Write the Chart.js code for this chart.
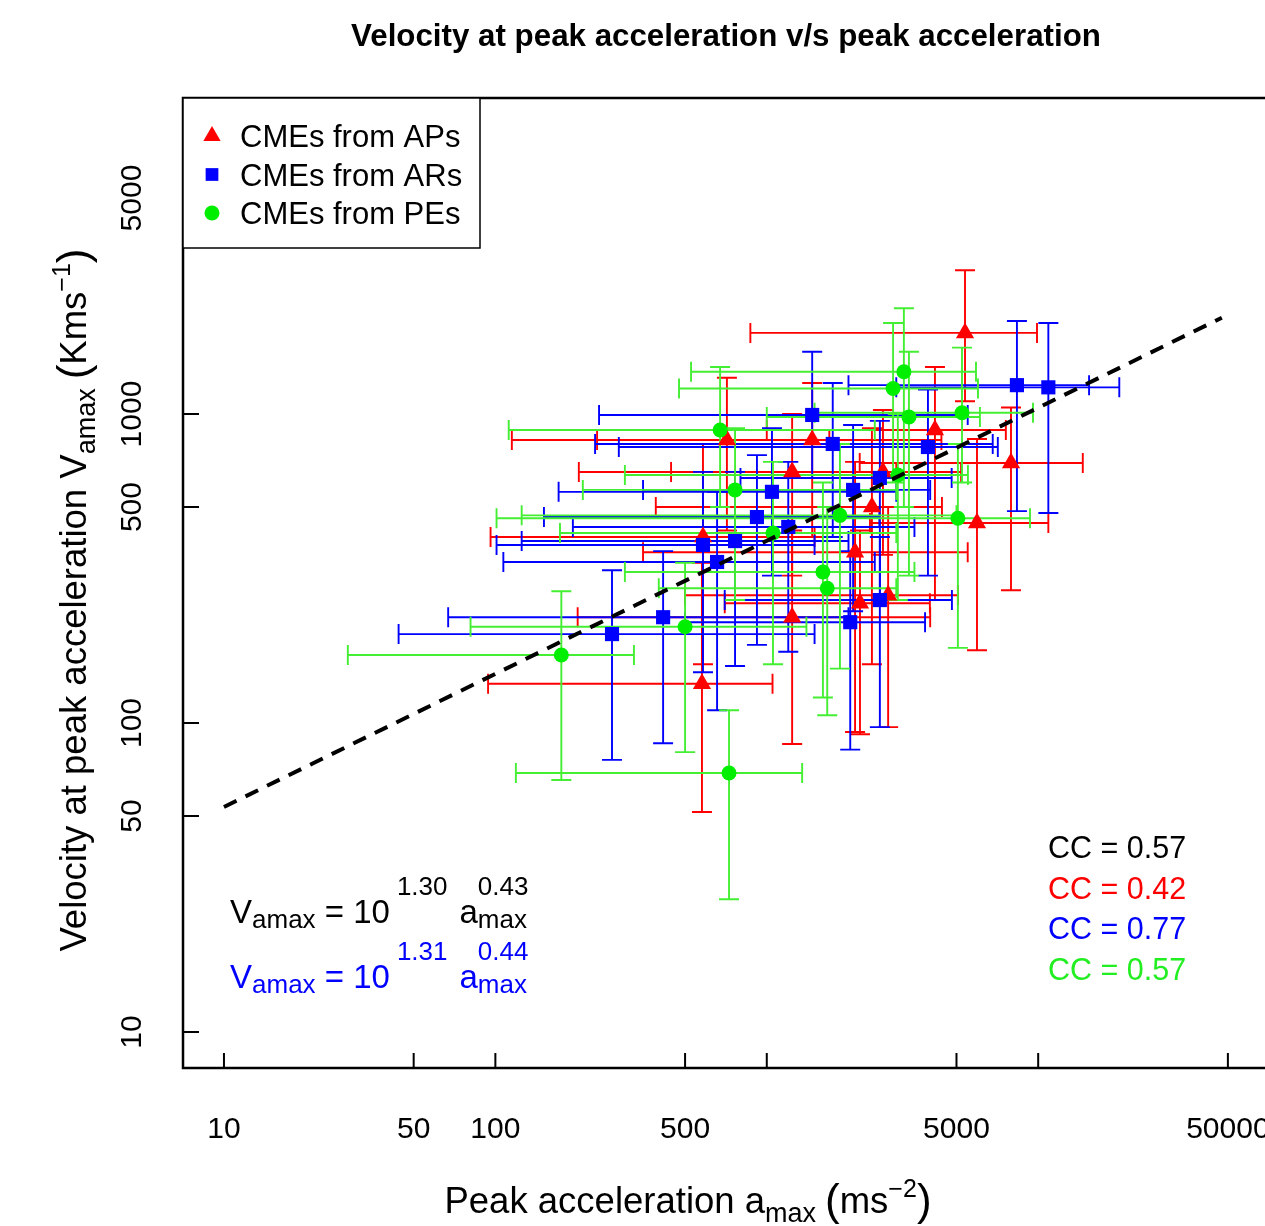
<!DOCTYPE html>
<html>
<head>
<meta charset="utf-8">
<title>Velocity at peak acceleration v/s peak acceleration</title>
<script src="https://cdn.jsdelivr.net/npm/chart.js@4.4.0/dist/chart.umd.min.js"></script>
<style>
  html, body { margin: 0; padding: 0; background: #fff; overflow: hidden; }
  #marco { width: 1265px; height: 1226px; overflow: hidden; }
  canvas { display: block; }
</style>
</head>
<body>
<div id="marco"><canvas id="grafico" width="1300" height="1226"></canvas></div>
<script>
// ejes (escala log)
const xTicks = [10, 50, 100, 500, 1000, 5000, 10000, 50000];
const xTickLabels = ['10', '50', '100', '500', '', '5000', '', '50000'];
const yTicks = [10, 50, 100, 500, 1000, 5000, 10000];
const yTickLabels = ['10', '50', '100', '500', '1000', '5000', ''];

// CMEs from APs (rojo)
const apX    = [5375, 7940, 5950, 577, 713, 1470, 1240, 2115, 2205, 2800, 4165, 2440, 582, 1240, 2680];
const apY    = [1830, 694, 444, 134, 824, 824, 220, 357, 244, 259, 888, 500, 400, 649, 649];
const apXLo  = [870, 2200, 2400, 94, 115, 237, 201, 350, 700, 500, 1000, 390, 96, 203, 444];
const apXHi  = [9900, 14600, 10900, 1050, 1700, 4400, 4000, 5500, 3990, 5060, 7600, 4420, 1500, 3000, 5200];
const apYLo  = [1100, 269, 172, 51.5, 420, 400, 85.5, 93.5, 92, 97, 250, 155, 155, 300, 350];
const apYHi  = [2920, 1050, 830, 330, 1310, 1260, 420, 700, 420, 500, 1420, 900, 800, 1000, 1030];

// CMEs from ARs (azul)
const arX    = [269, 415, 656, 8350, 10900, 3925, 2610, 2080, 2610, 1750, 1470, 1045, 920, 1200, 764, 582, 2030];
const arY    = [194, 220, 332, 1240, 1220, 782, 621, 568, 250, 800, 993, 560, 464, 431, 388, 377, 212];
const arXLo  = [44, 67, 107, 2000, 3000, 285, 800, 350, 700, 233, 241, 171, 151, 193, 125, 101, 500];
const arXHi  = [1500, 2000, 2500, 15400, 19900, 7100, 4800, 4000, 4810, 6800, 5500, 3000, 2600, 3500, 2000, 1500, 3830];
const arYLo  = [76, 86, 110, 485, 478, 300, 250, 230, 97, 400, 620, 300, 179, 170, 153, 146, 82];
const arYHi  = [312, 360, 560, 2000, 1970, 1200, 950, 921, 400, 1260, 1590, 900, 736, 700, 650, 650, 360];

// CMEs from PEs (verde)
const peX    = [175, 726, 500, 1610, 1670, 3200, 2920, 3340, 5240, 5060, 3040, 1860, 673, 764, 1054];
const peY    = [166, 68.9, 205, 308, 273, 1370, 1210, 978, 1010, 460, 635, 470, 888, 568, 412];
const peXLo  = [28.6, 119, 81, 300, 400, 526, 475, 1000, 1500, 101, 300, 125, 112, 210, 173];
const peXHi  = [324, 1350, 1400, 3500, 3000, 5900, 6000, 6100, 9570, 9330, 5510, 5000, 2500, 3000, 3000];
const peYLo  = [65.4, 26.9, 80.5, 121, 106, 500, 600, 300, 600, 175, 250, 150, 500, 250, 155];
const peYHi  = [267, 110, 330, 600, 500, 2200, 1970, 1590, 1640, 800, 1000, 800, 1420, 900, 700];

// recta de ajuste (extremos)
const ajusteX = [10, 47500];
const ajusteY = [53.5, 2050];

const ccTextos = ['CC = 0.57', 'CC = 0.42', 'CC = 0.77', 'CC = 0.57'];
const ccColores = ['#000000', '#ff0000', '#0000ff', '#22ee22'];

const ROJO = '#ff0000';
const AZUL = '#0000ff';
const VERDE = '#00ee00';
const VERDE_LINEA = '#44ee33';
const FUENTE = '"Liberation Sans", Arial, Helvetica, sans-serif';

const series = [
    { x: apX, y: apY, xLo: apXLo, xHi: apXHi, yLo: apYLo, yHi: apYHi, color: ROJO },
    { x: arX, y: arY, xLo: arXLo, xHi: arXHi, yLo: arYLo, yHi: arYHi, color: AZUL },
    { x: peX, y: peY, xLo: peXLo, xHi: peXHi, yLo: peYLo, yHi: peYHi, color: VERDE_LINEA }
];

function puntos(xs, ys) {
    return xs.map((v, i) => ({ x: v, y: ys[i] }));
}

// texto con subindices / superindices
function textoRico(ctx, partes, x, y, align) {
    const anchos = partes.map(p => {
        if (p.gap) return p.gap;
        if (p.stack) {
            return Math.max(...p.stack.map(q => {
                ctx.font = `${q.s}px ${FUENTE}`;
                return ctx.measureText(q.t).width;
            }));
        }
        ctx.font = `${p.s}px ${FUENTE}`;
        return ctx.measureText(p.t).width;
    });
    const total = anchos.reduce((a, b) => a + b, 0);
    let cx = align === 'center' ? x - total / 2 : x;
    ctx.textAlign = 'left';
    ctx.textBaseline = 'alphabetic';
    partes.forEach((p, i) => {
        if (p.stack) {
            p.stack.forEach(q => {
                ctx.font = `${q.s}px ${FUENTE}`;
                ctx.fillText(q.t, cx, y + (q.dy || 0));
            });
        } else if (!p.gap) {
            ctx.font = `${p.s}px ${FUENTE}`;
            ctx.fillText(p.t, cx, y + (p.dy || 0));
        }
        cx += anchos[i];
    });
}

const extras = {
    id: 'extras',
    beforeDatasetsDraw(chart) {
        // barras de error
        const ctx = chart.ctx;
        const xs = chart.scales.x;
        const ys = chart.scales.y;
        const area = chart.chartArea;
        const cap = 10;
        ctx.save();
        ctx.beginPath();
        ctx.rect(area.left, area.top, area.right - area.left, area.bottom - area.top);
        ctx.clip();
        ctx.lineWidth = 1.9;
        series.forEach(s => {
            ctx.strokeStyle = s.color;
            for (let i = 0; i < s.x.length; i++) {
                const px = xs.getPixelForValue(s.x[i]);
                const py = ys.getPixelForValue(s.y[i]);
                const x0 = xs.getPixelForValue(s.xLo[i]);
                const x1 = xs.getPixelForValue(s.xHi[i]);
                const y0 = ys.getPixelForValue(s.yLo[i]);
                const y1 = ys.getPixelForValue(s.yHi[i]);
                ctx.beginPath();
                ctx.moveTo(x0, py); ctx.lineTo(x1, py);
                ctx.moveTo(x0, py - cap); ctx.lineTo(x0, py + cap);
                ctx.moveTo(x1, py - cap); ctx.lineTo(x1, py + cap);
                ctx.moveTo(px, y0); ctx.lineTo(px, y1);
                ctx.moveTo(px - cap, y0); ctx.lineTo(px + cap, y0);
                ctx.moveTo(px - cap, y1); ctx.lineTo(px + cap, y1);
                ctx.stroke();
            }
        });
        ctx.restore();
    },
    afterDraw(chart) {
        const ctx = chart.ctx;
        const xs = chart.scales.x;
        const ys = chart.scales.y;
        const area = chart.chartArea;
        ctx.save();

        // caja
        ctx.strokeStyle = '#000';
        ctx.lineWidth = 2.5;
        ctx.strokeRect(area.left, area.top, area.right - area.left, area.bottom - area.top);

        // marcas hacia dentro
        ctx.lineWidth = 2;
        ctx.beginPath();
        xTicks.forEach(v => {
            const px = xs.getPixelForValue(v);
            ctx.moveTo(px, area.bottom); ctx.lineTo(px, area.bottom - 15);
        });
        yTicks.forEach(v => {
            const py = ys.getPixelForValue(v);
            ctx.moveTo(area.left, py); ctx.lineTo(area.left + 16, py);
        });
        ctx.stroke();

        // etiquetas de los ejes
        ctx.fillStyle = '#000';
        ctx.font = `30px ${FUENTE}`;
        ctx.textAlign = 'center';
        ctx.textBaseline = 'alphabetic';
        xTicks.forEach((v, i) => {
            ctx.fillText(xTickLabels[i], xs.getPixelForValue(v), 1138);
        });
        yTicks.forEach((v, i) => {
            ctx.save();
            ctx.translate(141, ys.getPixelForValue(v));
            ctx.rotate(-Math.PI / 2);
            ctx.fillText(yTickLabels[i], 0, 0);
            ctx.restore();
        });

        // titulo
        ctx.font = `bold 31.3px ${FUENTE}`;
        ctx.fillText('Velocity at peak acceleration v/s peak acceleration', 726, 46);

        // titulos de ejes
        textoRico(ctx, [
            { t: 'Peak acceleration a', s: 36.5 },
            { t: 'max', s: 27, dy: 9 },
            { gap: 9 },
            { t: '(', s: 44, dy: 2 },
            { t: 'ms', s: 36.5 },
            { t: '\u22122', s: 25, dy: -16 },
            { t: ')', s: 44, dy: 2 }
        ], 688, 1213, 'center');
        ctx.save();
        ctx.translate(86, 600);
        ctx.rotate(-Math.PI / 2);
        textoRico(ctx, [
            { t: 'Velocity at peak acceleration V', s: 36.5 },
            { t: 'amax', s: 27, dy: 9 },
            { gap: 9 },
            { t: '(', s: 44, dy: 2 },
            { t: 'Kms', s: 36.5 },
            { t: '\u22121', s: 25, dy: -16 },
            { t: ')', s: 44, dy: 2 }
        ], 0, 0, 'center');
        ctx.restore();

        // leyenda
        ctx.fillStyle = '#fff';
        ctx.fillRect(area.left, area.top, 297, 150);
        ctx.lineWidth = 1.5;
        ctx.strokeStyle = '#000';
        ctx.strokeRect(area.left, area.top, 297, 150);
        const filas = [
            { txt: 'CMEs from APs', estilo: 'triangle', r: 10, color: ROJO },
            { txt: 'CMEs from ARs', estilo: 'rect', r: 9, color: AZUL },
            { txt: 'CMEs from PEs', estilo: 'circle', r: 7.5, color: VERDE }
        ];
        filas.forEach((f, i) => {
            const yy = 136 + i * 38.5;
            ctx.fillStyle = f.color;
            Chart.helpers.drawPoint(ctx, { pointStyle: f.estilo, radius: f.r, rotation: 0, borderWidth: 0 }, 212, yy);
            ctx.fillStyle = '#000';
            ctx.font = `31px ${FUENTE}`;
            ctx.textAlign = 'left';
            ctx.fillText(f.txt, 240, yy + 11);
        });

        // ecuaciones
        const ecuacion = (c1, c2) => [
            { t: 'V', s: 33 },
            { t: 'amax', s: 26, dy: 5 },
            { t: ' = 10', s: 33 },
            { gap: 7 },
            { t: c1, s: 26, dy: -28 },
            { gap: 12 },
            { t: 'a', s: 33 },
            { stack: [{ t: c2, s: 26, dy: -28 }, { t: 'max', s: 26, dy: 5 }] }
        ];
        ctx.fillStyle = '#000';
        textoRico(ctx, ecuacion('1.30', '0.43'), 230, 923, 'left');
        ctx.fillStyle = AZUL;
        textoRico(ctx, ecuacion('1.31', '0.44'), 230, 988, 'left');

        // coeficientes
        ccTextos.forEach((t, i) => {
            ctx.fillStyle = ccColores[i];
            ctx.font = `30.5px ${FUENTE}`;
            ctx.textAlign = 'left';
            ctx.fillText(t, 1048, 858 + i * 40.5);
        });

        ctx.restore();
    }
};

const ctx = document.getElementById('grafico').getContext('2d');
const grafico = new Chart(ctx, {
    type: 'scatter',
    data: {
        datasets: [
            {
                label: 'ajuste',
                type: 'line',
                data: puntos(ajusteX, ajusteY),
                borderColor: '#000',
                borderWidth: 4,
                borderDash: [14, 10],
                pointRadius: 0,
                fill: false,
                order: 0
            },
            {
                label: 'CMEs from PEs',
                data: puntos(peX, peY),
                pointStyle: 'circle',
                pointRadius: 7.5,
                backgroundColor: VERDE,
                borderWidth: 0,
                order: 1
            },
            {
                label: 'CMEs from ARs',
                data: puntos(arX, arY),
                pointStyle: 'rect',
                pointRadius: 10,
                backgroundColor: AZUL,
                borderWidth: 0,
                order: 2
            },
            {
                label: 'CMEs from APs',
                data: puntos(apX, apY),
                pointStyle: 'triangle',
                pointRadius: 10.5,
                backgroundColor: ROJO,
                borderWidth: 0,
                order: 3
            }
        ]
    },
    options: {
        responsive: false,
        devicePixelRatio: 1,
        animation: false,
        events: [],
        layout: { padding: { top: 98, right: 20, bottom: 0, left: 0 } },
        plugins: {
            legend: { display: false },
            tooltip: { enabled: false },
            title: { display: false }
        },
        scales: {
            x: {
                type: 'logarithmic',
                bounds: 'data',
                min: 7.064,
                max: 77800,
                grid: { display: false },
                border: { display: false },
                ticks: { display: false },
                afterBuildTicks: (scale) => { scale.ticks = xTicks.map(v => ({ value: v })); },
                afterFit: (scale) => { scale.height = 158; }
            },
            y: {
                type: 'logarithmic',
                bounds: 'data',
                min: 7.648,
                max: 10537,
                grid: { display: false },
                border: { display: false },
                ticks: { display: false },
                afterBuildTicks: (scale) => { scale.ticks = yTicks.map(v => ({ value: v })); },
                afterFit: (scale) => { scale.width = 183; }
            }
        }
    },
    plugins: [extras]
});
</script>
</body>
</html>
